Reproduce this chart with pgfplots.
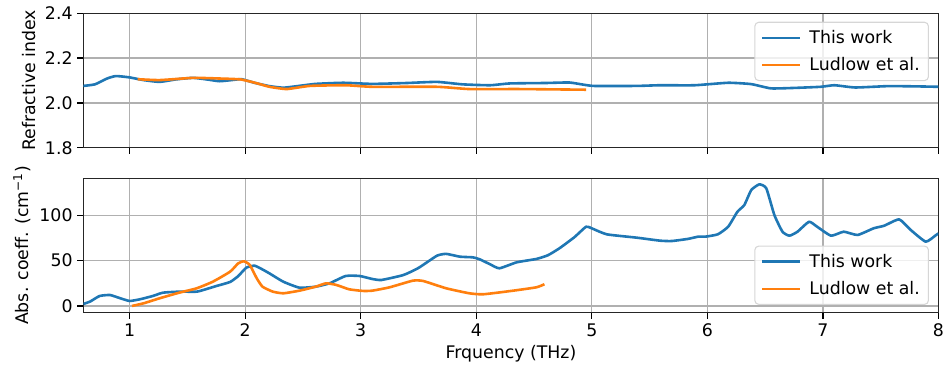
\documentclass[border=0pt]{standalone}
\usepackage{fontspec}
\setmainfont{DejaVu Sans}
\usepackage{pgfplots}
\pgfplotsset{compat=1.18}
\definecolor{mplblue}{RGB}{31,119,180}
\definecolor{mplorange}{RGB}{255,127,14}
\definecolor{gridgray}{RGB}{176,176,176}
\definecolor{legedge}{RGB}{214,214,214}
\pgfplotsset{
  mystyle/.style={
    scale only axis, width=641.3pt, height=100.8pt,
    xmin=0.6, xmax=8,
    tick pos=left, tick align=outside, major tick length=4.6pt,
    every tick/.style={black, line width=1.0pt},
    axis line style={line width=1.0pt, black!85},
    grid=major, major grid style={gridgray, line width=1.0pt},
    /pgf/number format/assume math mode=true,
    tick label style={font=\fontsize{13pt}{15pt}\selectfont},
    label style={font=\fontsize{13pt}{15pt}\selectfont},
    legend style={font=\fontsize{13pt}{15pt}\selectfont, draw=legedge, line width=0.8pt, rounded corners=3pt, fill=white, fill opacity=0.8, text opacity=1, inner xsep=4.5pt, inner ysep=4pt, row sep=5pt, cells={anchor=west},
      /tikz/every odd column/.append style={column sep=4pt}},
    legend image code/.code={\draw[#1] (0pt,0pt) -- (28.5pt,0pt);},
    every axis plot/.append style={line width=1.95pt, line join=round, smooth, tension=0.3},
  }
}
\begin{document}
\begin{tikzpicture}
\useasboundingbox (0,0) rectangle (707.25pt,-276pt);
\begin{axis}[mystyle, name=top, anchor=north west, at={(62.55pt,-10pt)},
  ymin=1.8, ymax=2.4, ytick={1.8,2.0,2.2,2.4},
  yticklabel style={/pgf/number format/fixed, /pgf/number format/precision=1, /pgf/number format/fixed zerofill},
  xtick={1,2,3,4,5,6,7,8}, xticklabels={},
  ylabel={Refractive index},
  legend style={at={(1,1)}, anchor=north east, xshift=-7.1pt, yshift=-6.3pt},
]
\addplot[mplblue] coordinates {
(0.60,2.076) (0.70,2.083) (0.80,2.108) (0.88,2.120) (1.00,2.114) (1.12,2.102) (1.26,2.094) (1.40,2.105) (1.55,2.112) (1.68,2.104) (1.78,2.097) (1.90,2.103) (1.97,2.106) (2.08,2.090) (2.21,2.075) (2.33,2.068) (2.45,2.075) (2.61,2.085) (2.85,2.090) (3.10,2.085) (3.40,2.089) (3.66,2.094) (3.88,2.083) (4.12,2.079) (4.29,2.087) (4.60,2.089) (4.81,2.091) (5.01,2.076) (5.39,2.076) (5.59,2.079) (5.89,2.079) (6.18,2.090) (6.38,2.084) (6.55,2.065) (6.75,2.067) (6.98,2.072) (7.10,2.079) (7.28,2.069) (7.56,2.075) (7.80,2.074) (8.00,2.072)
};
\addlegendentry{This work}
\addplot[mplorange] coordinates {
(1.07,2.106) (1.26,2.102) (1.55,2.112) (1.78,2.109) (1.96,2.105) (2.10,2.088) (2.21,2.072) (2.36,2.062) (2.56,2.076) (2.87,2.079) (3.10,2.072) (3.66,2.072) (3.94,2.062) (4.37,2.062) (4.95,2.059)
};
\addlegendentry{Ludlow et al.}
\end{axis}
\begin{axis}[mystyle, name=bot, anchor=north west, at={(62.55pt,-133.7pt)},
  ymin=-7.4, ymax=141, ytick={0,50,100},
  xtick={1,2,3,4,5,6,7,8},
  ylabel={Abs. coeff. (cm\textsuperscript{−1})},
  xlabel={Frquency (THz)},
  legend style={at={(1,0)}, anchor=south east, xshift=-7.1pt, yshift=5.8pt},
]
\addplot[mplblue] coordinates {
(0.60,2.2) (0.66,5) (0.74,11) (0.83,12.1) (0.92,8.5) (1.00,5.5) (1.09,7.4) (1.20,11) (1.29,14.7) (1.43,15.8) (1.58,15.8) (1.66,18.5) (1.75,22) (1.87,26.5) (1.94,33) (2.01,42.3) (2.08,44.5) (2.14,41) (2.21,36) (2.33,26.8) (2.47,20.2) (2.61,21.3) (2.73,25) (2.87,33.1) (2.99,33.1) (3.10,29.8) (3.18,28.7) (3.37,34.2) (3.50,42) (3.66,55.5) (3.74,57.5) (3.86,54.4) (3.97,53.7) (4.03,51.5) (4.12,46) (4.20,41.6) (4.35,48.2) (4.52,51.9) (4.62,56) (4.72,63.7) (4.85,76) (4.95,87.5) (5.00,85.7) (5.13,79.1) (5.39,75.4) (5.59,72.1) (5.69,71.7) (5.83,74) (5.92,76.5) (5.98,76.5) (6.09,79.1) (6.18,87.5) (6.26,104) (6.32,111.5) (6.38,128) (6.45,134.3) (6.51,129.9) (6.58,100.4) (6.65,82) (6.71,77.6) (6.78,82) (6.88,93) (6.95,87.5) (7.07,77.6) (7.18,82) (7.30,78.4) (7.44,85.8) (7.53,88.6) (7.66,95.6) (7.76,83.9) (7.89,71) (7.98,78.4) (8.00,80)
};
\addlegendentry{This work}
\addplot[mplorange] coordinates {
(1.02,0) (1.12,2.9) (1.26,8.5) (1.43,14.7) (1.58,19.5) (1.72,26.8) (1.87,37.9) (1.94,47.1) (1.99,49.3) (2.04,45.3) (2.10,30.6) (2.15,21.3) (2.24,15.8) (2.33,14) (2.47,16.9) (2.61,21.3) (2.70,25) (2.79,23.2) (2.90,18.4) (3.02,16.6) (3.10,16.9) (3.25,20.6) (3.45,27.9) (3.54,27.6) (3.74,19.5) (3.94,14) (4.06,12.9) (4.32,16.9) (4.52,20.6) (4.59,24)
};
\addlegendentry{Ludlow et al.}
\end{axis}
\end{tikzpicture}
\end{document}
